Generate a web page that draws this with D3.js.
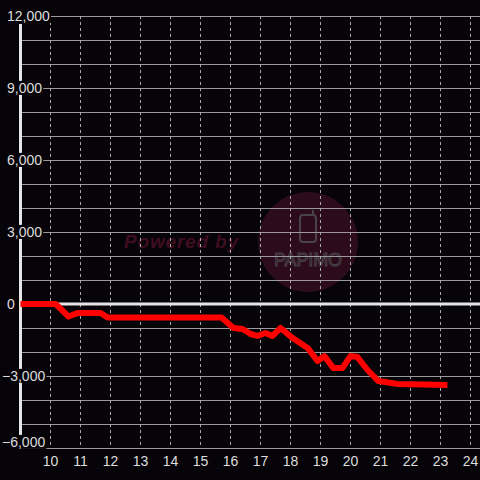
<!DOCTYPE html>
<html>
<head>
<meta charset="utf-8">
<script src="https://cdn.jsdelivr.net/npm/d3@7"></script>
<style>
  html, body { margin: 0; padding: 0; background: #060408; }
  svg { display: block; }
  text { font-family: 'Liberation Sans', Arial, sans-serif; }
</style>
</head>
<body>
<svg width="480" height="480"></svg>
<script>
// 時刻 (h) と差枚
const hours = [9.0, 10.17, 10.6, 10.9, 11.67, 11.9, 15.7, 16.1, 16.4, 16.67, 16.9, 17.17, 17.4, 17.67,
  18.07, 18.57, 18.9, 19.13, 19.43, 19.73, 20.0, 20.23, 20.57, 20.93, 21.57, 23.23];
const values = [0, 0, -520, -375, -375, -560, -560, -1000, -1040, -1250, -1330, -1210, -1330, -1000,
  -1420, -1830, -2375, -2170, -2670, -2670, -2170, -2210, -2750, -3210, -3330, -3375];

const xTicks = [10, 11, 12, 13, 14, 15, 16, 17, 18, 19, 20, 21, 22, 23, 24];
const yTicks = [12000, 9000, 6000, 3000, 0, -3000, -6000];
const yGrid = d3.range(-6000, 12001, 1000);

const svg = d3.select('svg');
svg.append('rect').attr('width', 480).attr('height', 480).attr('fill', '#060408');

const x = d3.scaleLinear().domain([9, 24]).range([20.5, 470.5]);
const y = d3.scaleLinear().domain([-6000, 12000]).range([448, 16]);

// 透かし
const wm = svg.append('g');
wm.append('text')
  .attr('x', 181).attr('y', 248)
  .attr('text-anchor', 'middle')
  .attr('font-size', 19).attr('font-weight', 'bold').attr('font-style', 'italic')
  .attr('font-family', "'DejaVu Sans', sans-serif")
  .attr('textLength', 114)
  .attr('fill', '#3f0d20')
  .text('Powered by');
wm.append('circle').attr('cx', 308).attr('cy', 242).attr('r', 50).attr('fill', '#2c0b1d');
wm.append('rect')
  .attr('x', 300).attr('y', 215).attr('width', 16).attr('height', 27).attr('rx', 3)
  .attr('fill', 'none').attr('stroke', '#4a4248').attr('stroke-width', 2);
wm.append('line')
  .attr('x1', 313).attr('x2', 313).attr('y1', 210).attr('y2', 215)
  .attr('stroke', '#4a4248').attr('stroke-width', 2);
wm.append('text')
  .attr('x', 308).attr('y', 266)
  .attr('text-anchor', 'middle')
  .attr('font-size', 18)
  .attr('font-family', "'DejaVu Sans Mono', monospace")
  .attr('textLength', 68)
  .attr('fill', 'none').attr('stroke', '#4a4248').attr('stroke-width', 1)
  .text('PAPIMO');

// 横グリッド
svg.append('g').selectAll('line').data(yGrid).enter().append('line')
  .attr('x1', 20).attr('x2', 480)
  .attr('y1', d => Math.round(y(d)) + 0.5).attr('y2', d => Math.round(y(d)) + 0.5)
  .attr('stroke', '#9a9a9a').attr('stroke-width', 1);

// 縦グリッド (点線)
svg.append('g').selectAll('line').data(xTicks).enter().append('line')
  .attr('x1', d => x(d)).attr('x2', d => x(d))
  .attr('y1', 16).attr('y2', 448)
  .attr('stroke', '#aaaaaa').attr('stroke-width', 1).attr('stroke-dasharray', '3,3');

// 0 ライン & 縦軸
svg.append('line')
  .attr('x1', 20).attr('x2', 480).attr('y1', y(0)).attr('y2', y(0))
  .attr('stroke', '#e6e6e6').attr('stroke-width', 3);
svg.append('line')
  .attr('x1', 20.5).attr('x2', 20.5).attr('y1', 24).attr('y2', 448)
  .attr('stroke', '#e6e6e6').attr('stroke-width', 3);

// 差枚ライン
const line = d3.line().x((d, i) => x(hours[i])).y(d => y(d));
svg.append('path')
  .datum(values)
  .attr('d', line)
  .attr('fill', 'none')
  .attr('stroke', '#ff0000')
  .attr('stroke-width', 6)
  .attr('stroke-linejoin', 'round');

// Y ラベル (背景つき)
const fmt = d3.format(',');
const yl = svg.append('g').selectAll('g').data(yTicks).enter().append('g')
  .attr('transform', d => `translate(${d < 0 ? 2 : 7},${Math.min(y(d), 442)})`);
yl.append('text')
  .attr('dy', '0.35em')
  .attr('font-size', 14)
  .attr('fill', '#dddddd')
  .text(d => fmt(d))
  .each(function () {
    const b = this.getBBox();
    d3.select(this.parentNode).insert('rect', 'text')
      .attr('x', b.x - 1).attr('y', b.y + 1).attr('width', b.width + 2).attr('height', b.height - 2)
      .attr('fill', '#060408');
  });

// X ラベル
svg.append('g').selectAll('text').data(xTicks).enter().append('text')
  .attr('x', d => x(d)).attr('y', 466)
  .attr('text-anchor', 'middle')
  .attr('font-size', 14)
  .attr('fill', '#dddddd')
  .text(d => d);
</script>
</body>
</html>
